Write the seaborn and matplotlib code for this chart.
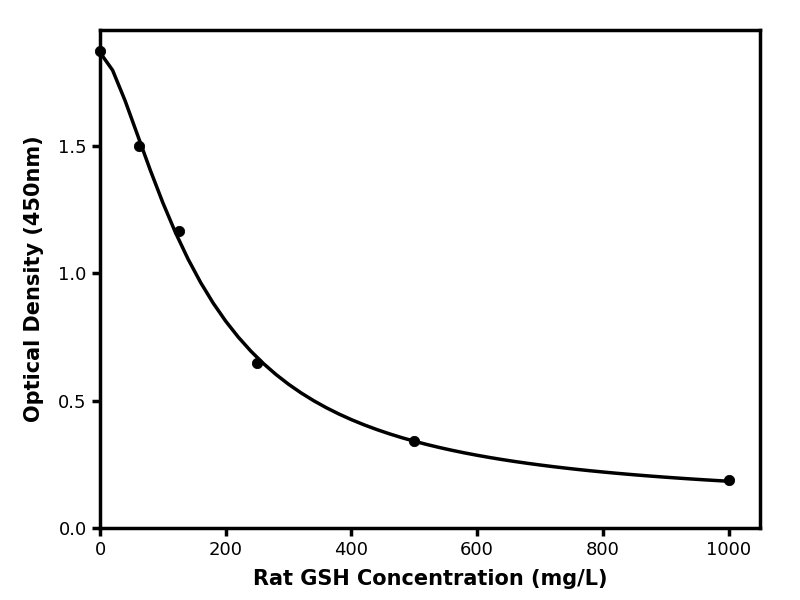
import numpy as np
import pandas as pd
import seaborn as sns
import matplotlib
matplotlib.use('Agg')
import matplotlib.pyplot as plt

# Standard points
conc = [0, 62.5, 125, 250, 500, 1000]
od = [1.873, 1.500, 1.166, 0.648, 0.342, 0.188]


def four_pl(x, p):
    a, b, c, d = p
    return d + (a - d) / (1 + (np.abs(x) / c) ** b)


# Fit a four-parameter logistic curve to the standards (simple Levenberg-Marquardt)
x = np.array(conc, dtype=float)
y = np.array(od, dtype=float)
p = np.array([1.9, 1.3, 150.0, 0.1])
lam = 1e-3
for _ in range(500):
    r = y - four_pl(x, p)
    J = np.zeros((len(x), 4))
    for i in range(4):
        dp = np.zeros(4)
        dp[i] = 1e-6 * max(abs(p[i]), 1.0)
        J[:, i] = (four_pl(x, p + dp) - four_pl(x, p - dp)) / (2 * dp[i])
    A = J.T @ J
    g = J.T @ r
    step = np.linalg.solve(A + lam * np.diag(np.diag(A)), g)
    p_new = p + step
    if p_new[2] > 0 and np.sum((y - four_pl(x, p_new)) ** 2) < np.sum(r ** 2):
        p = p_new
        lam *= 0.3
    else:
        lam *= 10

curve_x = np.linspace(0, 1000, 51)
curve = pd.DataFrame({'conc': curve_x, 'od': four_pl(curve_x, p)})
points = pd.DataFrame({'conc': conc, 'od': od})

sns.set_style('ticks', {'text.color': 'black', 'axes.labelcolor': 'black',
                        'xtick.color': 'black', 'ytick.color': 'black'})
fig = plt.figure(figsize=(8, 6), dpi=100)
ax = fig.add_axes([0.125, 0.12, 0.825, 0.83])

sns.lineplot(data=curve, x='conc', y='od', color='black', linewidth=2.5, ax=ax)
sns.scatterplot(data=points, x='conc', y='od', color='black', s=55, edgecolor='black',
                zorder=3, ax=ax, clip_on=False)

ax.set_xlim(0, 1050)
ax.set_ylim(0, 1.955)
ax.set_xticks([0, 200, 400, 600, 800, 1000])
ax.set_yticks([0.0, 0.5, 1.0, 1.5])
ax.set_xlabel('Rat GSH Concentration (mg/L)', fontsize=15, fontweight='bold', labelpad=7)
ax.set_ylabel('Optical Density (450nm)', fontsize=15, fontweight='bold', labelpad=10)
ax.tick_params(labelsize=13, width=2.5, length=6, color='black', labelcolor='black')
for s in ax.spines.values():
    s.set_linewidth(2.5)
    s.set_color('black')

plt.savefig('out.png', dpi=100)
